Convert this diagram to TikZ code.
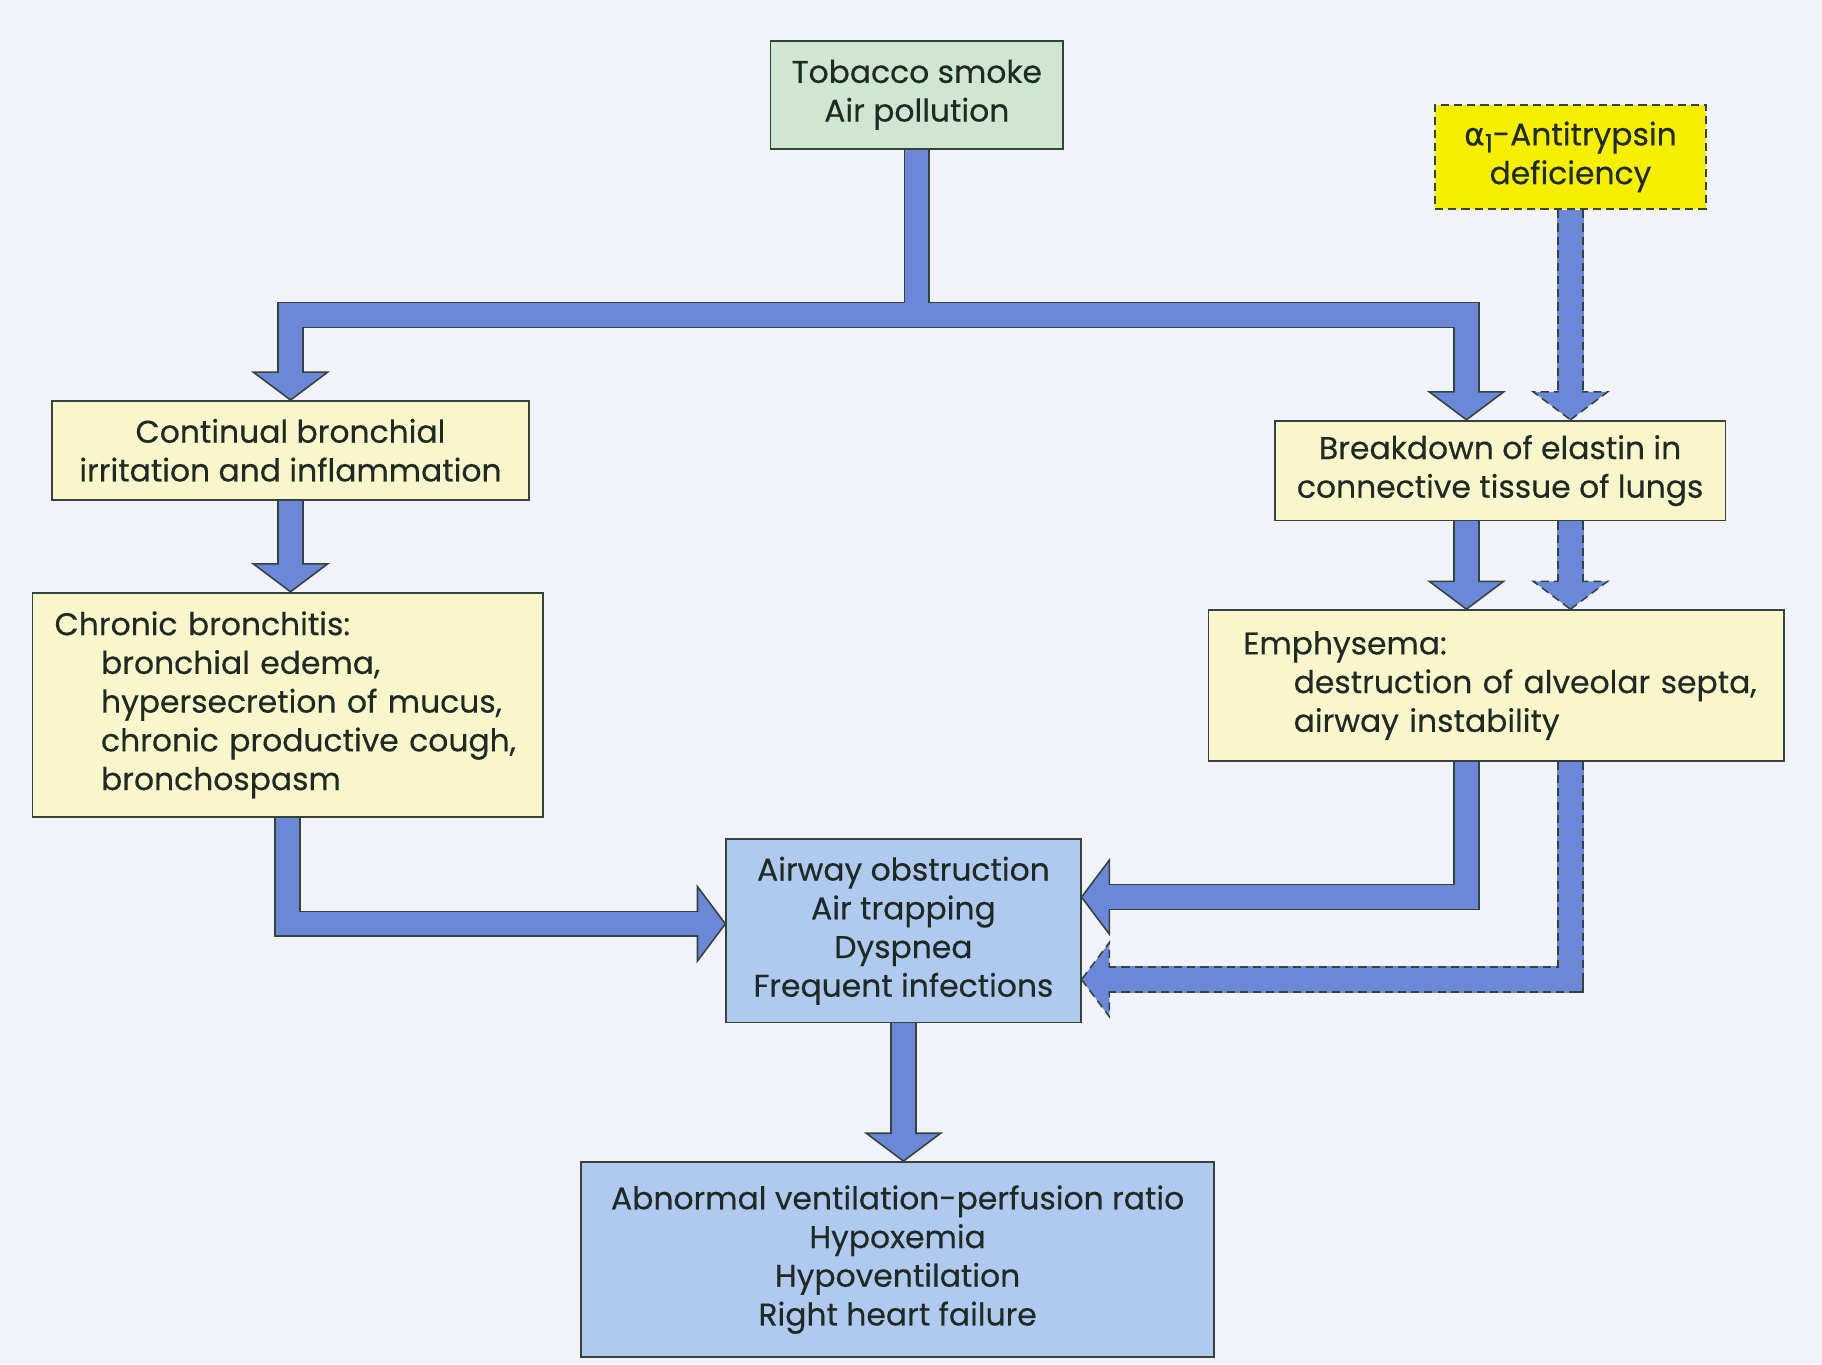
\documentclass[tikz,border=0pt]{standalone}
\usepackage{fontspec}
\setmainfont{Poppins}[FakeBold=0.35]
\newfontfamily\greekfont{DejaVu Sans}[FakeBold=0.35]
\usetikzlibrary{positioning,calc,decorations.markings}

\definecolor{pagebg}{HTML}{F2F3F8}
\definecolor{greenbox}{HTML}{CFE7D0}
\definecolor{yellowbox}{HTML}{F7EF00}
\definecolor{creambox}{HTML}{F8F6CA}
\definecolor{bluebox}{HTML}{B0C9EF}
\definecolor{arrowblue}{HTML}{6A87D8}
\definecolor{edgegray}{HTML}{34443C}
\definecolor{inkgray}{HTML}{1F2A24}

\pgfdeclarelayer{background}
\pgfdeclarelayer{flowedge}
\pgfdeclarelayer{flowhead}
\pgfdeclarelayer{flowfill}
\pgfsetlayers{background,flowedge,flowhead,flowfill,main}

\tikzset{
    % Boxes
    box/.style={
        draw=edgegray,
        line width=0.9pt,
        align=center,
        inner sep=0pt,
        text=inkgray,
        font=\fontsize{16.2}{20}\selectfont
    },
    boxsize/.style 2 args={minimum width=#1*0.6pt, minimum height=#2*0.6pt},
    dashline/.style={dash pattern=on 4.2pt off 2.6pt},
    causebox/.style={box, fill=greenbox},
    genebox/.style={box, fill=yellowbox, line width=1.1pt, dashline},
    stagebox/.style={box, fill=creambox},
    effectbox/.style={box, fill=bluebox},
    % Block arrows: edge, head, fill
    flowedge/.style={draw, line width=13.6pt, line join=miter, shorten >=14pt},
    flowfill/.style={draw=arrowblue, line width=12pt, line join=miter, shorten >=11pt},
    flowhead/.style={
        decoration={markings, mark=at position 1 with {
            \draw[edgegray, fill=arrowblue, line width=0.8pt, line join=miter, #1]
                (0,0) -- (-14.4pt,19.2pt) -- (-14.4pt,-19.2pt) -- cycle;}},
        decorate
    }
}

\newcommand\flow[2][solid]{%
    \begin{pgfonlayer}{flowedge}
        \draw[flowedge, arrowblue] #2;
        \draw[flowedge, edgegray, #1] #2;
    \end{pgfonlayer}
    \begin{pgfonlayer}{flowhead}
        \path[flowhead=#1] #2;
    \end{pgfonlayer}
    \begin{pgfonlayer}{flowfill}
        \draw[flowfill] #2;
    \end{pgfonlayer}
}

\begin{document}
\begin{tikzpicture}[x=0.6pt, y=-0.6pt]

\begin{pgfonlayer}{background}
    \fill[pagebg] (0,0) rectangle (1568,1174);
\end{pgfonlayer}
\useasboundingbox (0,0) rectangle (1568,1174);

% === CAUSES ===
\node[causebox, boxsize={252}{93}] (tobacco) at (789,81.5) {Tobacco smoke\\Air pollution};
\node[genebox, boxsize={233}{90}] (alpha) at (1351.5,135) {{\greekfont α}\raisebox{-0.4ex}{\fontsize{13}{13}\selectfont 1}-Antitrypsin\\deficiency};

% === LEFT BRANCH ===
\node[stagebox, boxsize={410}{85}] (continual) at (250,387.5) {Continual bronchial\\irritation and inflammation};
\node[stagebox, boxsize={439}{193}, text width=240.6pt, inner xsep=11.4pt, align=left] (chronic) at (247.5,606.5) {
    Chronic bronchitis:\\
    \hspace*{24pt}\mbox{bronchial edema,}\\
    \hspace*{24pt}\mbox{hypersecretion of mucus,}\\
    \hspace*{24pt}\mbox{chronic productive cough,}\\
    \hspace*{24pt}\mbox{bronchospasm}
};

% === RIGHT BRANCH ===
\node[stagebox, boxsize={388}{86}] (breakdown) at (1291,405) {Breakdown of elastin in\\connective tissue of lungs};
\node[stagebox, boxsize={495}{130}, text width=261pt, inner xsep=18pt, align=left] (emphysema) at (1287.5,590) {
    Emphysema:\\
    \hspace*{26pt}\mbox{destruction of alveolar septa,}\\
    \hspace*{26pt}\mbox{airway instability}
};

% === EFFECTS ===
\node[effectbox, boxsize={305}{158}] (airway) at (777.5,801) {Airway obstruction\\Air trapping\\Dyspnea\\Frequent infections};
\node[effectbox, boxsize={545}{168}] (abnormal) at (772.5,1084) {Abnormal ventilation-perfusion ratio\\Hypoxemia\\Hypoventilation\\Right heart failure};

% Junctions
\coordinate (split) at (789,271);
\coordinate (brkin) at ($(breakdown.north)+(-29,0)$);
\coordinate (airin0) at ($(airway.west)+(0,-6)$);
\coordinate (airin1) at ($(airway.east)+(0,-29)$);
\coordinate (airin2) at ($(airway.east)+(0,42)$);

% Arrows
\flow{(tobacco.south) -- (split) -| (continual.north)}
\flow{(tobacco.south) -- (split) -| (brkin)}
\flow[dashline]{(alpha.south) -- (alpha.south |- breakdown.north)}
\flow{(continual.south) -- (continual.south |- chronic.north)}
\flow{(brkin |- breakdown.south) -- (brkin |- emphysema.north)}
\flow[dashline]{(alpha.south |- breakdown.south) -- (alpha.south |- emphysema.north)}
\flow{(brkin |- emphysema.south) |- (airin1)}
\flow[dashline]{(alpha.south |- emphysema.south) |- (airin2)}
\flow{(chronic.south) |- (airin0)}
\flow{(airway.south) -- (airway.south |- abnormal.north)}

\end{tikzpicture}
\end{document}
